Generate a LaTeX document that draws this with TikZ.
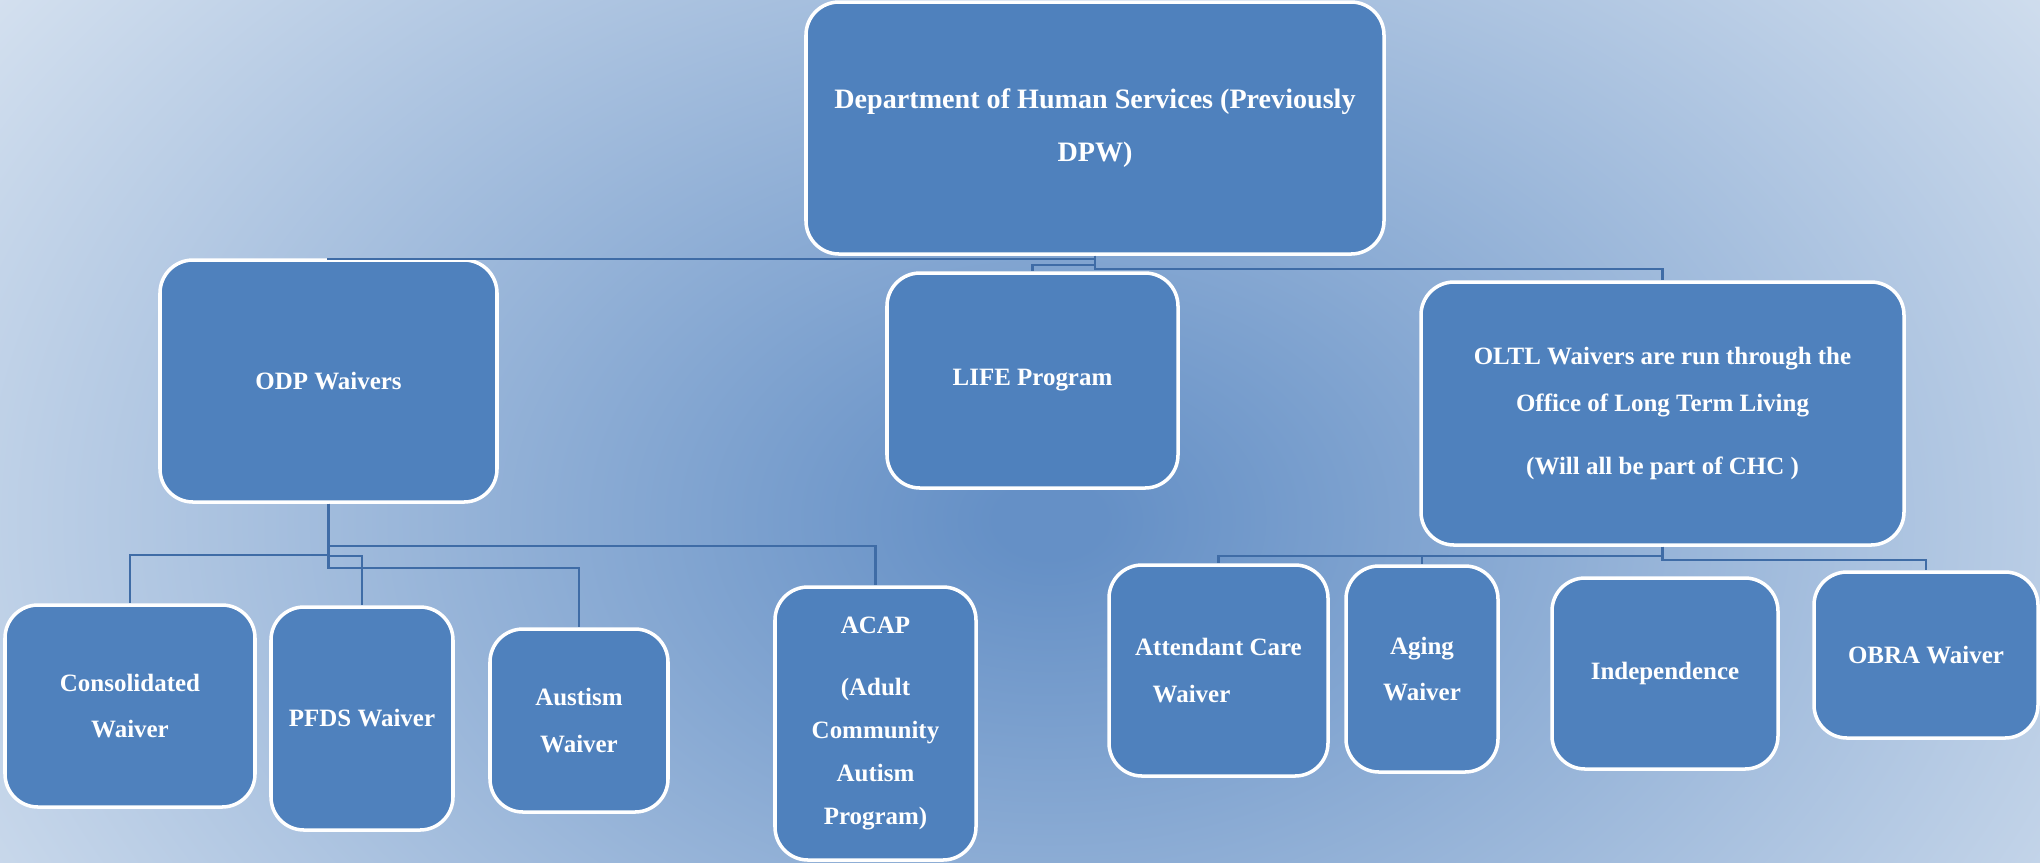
\documentclass[tikz,border=0pt]{standalone}
\usepackage{fontspec}
\setmainfont{Liberation Serif}
\usetikzlibrary{positioning}

\definecolor{boxblue}{HTML}{4F81BD}
\definecolor{linkblue}{HTML}{3F6CA6}
\definecolor{bgin}{HTML}{6590C6}
\definecolor{bgout}{HTML}{D9E4F1}
\pgfdeclareradialshading{bgshade}{\pgfpoint{0bp}{0bp}}{color(0bp)=(bgin); color(1bp)=(bgin); color(25bp)=(bgout); color(50bp)=(bgout)}

\begin{document}
\begin{tikzpicture}[every node/.style={align=center},
box/.style={draw=white, line width=1pt, fill=boxblue, rounded corners=0.33cm, inner sep=2pt,
 text=white, font=\bfseries\fontsize{7.1}{13.3}\selectfont},
conn/.style={draw=linkblue, line width=0.7pt}]
%================================================================
%	Background
\useasboundingbox (0,0) rectangle (20.4,-8.62);
\begin{scope}
\clip (0,0) rectangle (20.4,-8.62);
\fill[bgout] (0,0) rectangle (20.4,-8.62);
\shade[shading=bgshade] (10.5,-5.2) ellipse (13.5 and 9.5);
\end{scope}

%================================================================
%	Nodes
\node[style=box, minimum width=5.78cm, minimum height=2.52cm, font=\bfseries\fontsize{8}{15}\selectfont] (dhs) at (10.95,-1.28) {Department of Human Services (Previously\\DPW)};
%----------------------------------------------------------------
\node[style=box, minimum width=3.37cm, minimum height=2.42cm] (odp) at (3.285,-3.81) {ODP Waivers};
\node[style=box, minimum width=2.91cm, minimum height=2.15cm] (life) at (10.325,-3.805) {LIFE Program};
\node[style=box, minimum width=4.83cm, minimum height=2.63cm] (oltl) at (16.625,-4.135) {OLTL Waivers are run through the\\Office of Long Term Living\\[4.5pt](Will all be part of CHC )};
%----------------------------------------------------------------
\node[style=box, minimum width=2.50cm, minimum height=2.02cm] (cons) at (1.30,-7.06) {Consolidated\\Waiver};
\node[style=box, minimum width=1.82cm, minimum height=2.23cm] (pfds) at (3.62,-7.185) {PFDS Waiver};
\node[style=box, minimum width=1.78cm, minimum height=1.83cm] (aut) at (5.79,-7.205) {Austism\\Waiver};
\node[style=box, minimum width=2.01cm, minimum height=2.73cm, font=\bfseries\fontsize{7.1}{12.3}\selectfont] (acap) at (8.755,-7.235) {ACAP\\[5.4pt](Adult\\Community\\Autism\\Program)};
%----------------------------------------------------------------
\node[style=box, minimum width=2.19cm, minimum height=2.11cm] (att) at (12.185,-6.705) {Attendant Care\\Waiver\hspace*{0.54cm}};
\node[style=box, minimum width=1.52cm, minimum height=2.06cm] (aging) at (14.22,-6.69) {Aging\\Waiver};
\node[style=box, minimum width=2.26cm, minimum height=1.91cm] (ind) at (16.65,-6.735) {Independence};
\node[style=box, minimum width=2.24cm, minimum height=1.66cm] (obra) at (19.26,-6.55) {OBRA Waiver};

%================================================================
%	Lines
\draw[conn] (dhs.south) -- ++(0,-0.03) -| (odp.north);
\draw[conn] (dhs.south) -- ++(0,-0.09) -| (life.north);
\draw[conn] (dhs.south) -- ++(0,-0.13) -| (oltl.north);
%----------------------------------------------------------------
\draw[conn] (odp.south) -- ++(0,-0.42) -| (acap.north);
\draw[conn] (odp.south) -- ++(0,-0.51) -| (cons.north);
\draw[conn] (odp.south) -- ++(0,-0.52) -| (pfds.north);
\draw[conn] (odp.south) -- ++(0,-0.64) -| (aut.north);
%----------------------------------------------------------------
\draw[conn] (oltl.south) -- ++(0,-0.09) -| (att.north);
\draw[conn] (oltl.south) -- ++(0,-0.09) -| (aging.north);
\draw[conn] (oltl.south) -- ++(0,-0.13) -| (obra.north);
%================================================================
\end{tikzpicture}
\end{document}
